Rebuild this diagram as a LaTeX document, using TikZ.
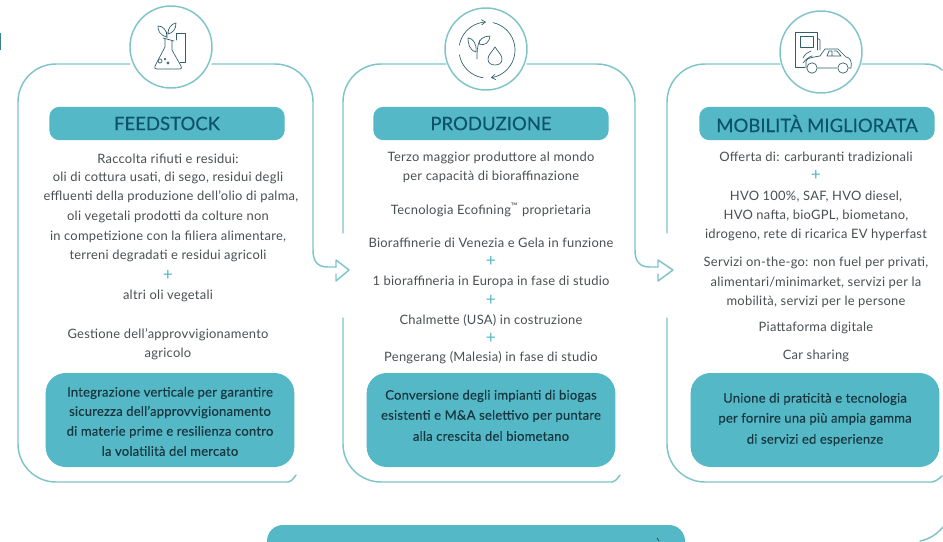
\documentclass[tikz,border=0pt]{standalone}
\usepackage{fontspec}
\setmainfont{Lato}
\usetikzlibrary{arrows.meta}
\definecolor{cardline}{HTML}{7FC4CA}
\definecolor{boxfill}{HTML}{55B8C6}
\definecolor{headtext}{HTML}{0C5268}
\definecolor{bodytext}{HTML}{4A4F52}
\definecolor{boxtext}{HTML}{17363F}
\definecolor{plusc}{HTML}{55B8C6}
\definecolor{iconc}{HTML}{2F5F6B}
\tikzset{
 x=0.75pt,y=-0.75pt,
 cardedge/.style={draw=cardline,line width=1.1pt,line cap=round,line join=round,rounded corners=28.5pt},
 arrowedge/.style={draw=cardline,line width=1.1pt,line cap=round,line join=round},
 badge/.style={circle,draw=cardline,line width=1.1pt,fill=white,minimum size=61.5pt,inner sep=0pt},
 pill/.style={fill=boxfill,rounded corners=7.5pt,minimum width=176.5pt,minimum height=25pt,inner sep=0pt,text=headtext,font=\fontsize{13.9pt}{15pt}\selectfont\addfontfeatures{FakeBold=0.15}},
 darkbox/.style={fill=boxfill,rounded corners=15pt,minimum width=186.5pt,minimum height=70.5pt,inner sep=0pt},
 body/.style={text=bodytext,font=\fontsize{9.7pt}{11pt}\selectfont\addfontfeatures{LetterSpace=2},inner sep=0pt,anchor=center},
 plussign/.style={text=plusc,font=\fontsize{13pt}{13pt}\selectfont,inner sep=0pt,anchor=center},
 boxline/.style={text=boxtext,font=\fontsize{9.8pt}{11pt}\selectfont\addfontfeatures{LetterSpace=1.5,FakeBold=0.2},inner sep=0pt,anchor=center},
 icon/.style={draw=iconc,line width=0.5pt,line join=round,line cap=round},
}
\begin{document}
\begin{tikzpicture}
\useasboundingbox (0,0) rectangle (943,542);
\fill[white] (0,0) rectangle (943,542);
\fill[boxfill!70!black] (0,33) rectangle (1.5,50);

% card outlines
\coordinate (a1) at (336,267);
\coordinate (a2) at (658,267);
\draw[cardedge] (130,64) -- (18,64) -- (18,482) -- (288,482);
\draw[arrowedge] (288,482) .. controls (292,481) and (294,478) .. (296,475);
\draw[arrowedge] (212,64) -- (275,64) .. controls (296,64) and (313,81) .. (313,102) -- (313,250) .. controls (313,262) and (318,267) .. (328,267) -- (a1);
\draw[arrowedge] (336,260) -- (a1) (336,260) -- (349,270) -- (336,281) -- (336,274);
\draw[cardedge] (343,233) -- (343,64) -- (446,64);
\draw[cardedge] (343,318) -- (343,482) -- (612,482);
\draw[arrowedge] (612,482) .. controls (616,481) and (618,478) .. (620,475);
\draw[arrowedge] (527,64) -- (597,64) .. controls (618,64) and (635,81) .. (635,102) -- (635,250) .. controls (635,262) and (640,267) .. (650,267) -- (a2);
\draw[arrowedge] (658,260) -- (a2) (658,260) -- (673,270) -- (658,281) -- (658,274);
\draw[cardedge] (667,233) -- (667,64) -- (780,64);
\draw[arrowedge] (862,64) -- (925,64) .. controls (933,64) and (938,66) .. (942,70);
\draw[cardedge] (667,318) -- (667,482) -- (932,482);
\draw[arrowedge] (932,482) .. controls (936,481) and (939,479) .. (942,476);
\draw[arrowedge] (943,527) .. controls (937,534) and (930,539) .. (920,541);

% badges
\node[badge] (b1) at (171,47) {};
\node[badge] (b2) at (486,49) {};
\node[badge] (b3) at (821,52) {};

% icon 1
\draw[icon] (163,38) -- (174,41) (165,39) -- (165,47) -- (155,66) .. controls (154,68) and (155,69) .. (157,69) -- (179,69) .. controls (182,69) and (182,67) .. (181,66) -- (172,50) -- (172,41);
\draw[icon] (176,40) -- (176,33) -- (185,33) -- (185,62) -- (180,62);
\draw[icon] (167,38) -- (167,32) (167,37) .. controls (159,35) and (158,30) .. (158,26) .. controls (163,26) and (167,30) .. (167,37) -- cycle;
\draw[icon] (168,34) .. controls (168,28) and (171,24) .. (176,23) .. controls (176,29) and (173,33) .. (168,34) -- cycle;
\draw[icon] (160,61) circle (2) (165,59) circle (1) (168,63) circle (1.2);
% icon 2
\draw[icon,-{Straight Barb[length=3pt,width=4pt]}] plot[smooth,domain=170:92,samples=16] ({487+28*cos(\x)},{50-28*sin(\x)});
\draw[icon,-{Straight Barb[length=3pt,width=4pt]}] plot[smooth,domain=78:-82,samples=28] ({487+28*cos(\x)},{50-28*sin(\x)});
\draw[icon] plot[smooth,domain=190:262,samples=14] ({487+28*cos(\x)},{50-28*sin(\x)});
\draw[icon] (477,59) .. controls (477,52) and (477,46) .. (480,40);
\draw[icon] (476,52) .. controls (469,50) and (468,43) .. (468,38) .. controls (473,38) and (477,44) .. (476,52) -- cycle;
\draw[icon] (479,44) .. controls (479,40) and (483,36) .. (490,36) .. controls (489,43) and (485,46) .. (479,44) -- cycle;
\draw[icon] (495,47) .. controls (492,52) and (488,55) .. (488,59) .. controls (488,63) and (491,65) .. (495,65) .. controls (499,65) and (502,63) .. (502,59) .. controls (502,55) and (498,52) .. (495,47) -- cycle;
% icon 3
\draw[icon] (805,67) -- (795,67) -- (795,32) -- (817,32) -- (817,50);
\draw[icon] (800,36) -- (813,36) -- (813,47) -- (800,47) -- cycle;
\draw[icon] (817,38) -- (820,40) -- (820,50);
\draw[icon] (803,58) .. controls (805,54) and (808,52) .. (811,51) (803,63) .. controls (806,59) and (809,57) .. (812,56);
\draw[icon] (806,68) -- (806,62) .. controls (806,59) and (809,58) .. (814,57) -- (820,56) -- (825,49) -- (838,49) -- (846,57) .. controls (850,58) and (852,60) .. (851,68) -- (849,68);
\draw[icon] (818,68) -- (837,68) (827,56) -- (829,51) -- (832,51) -- (832,56) (834,51) -- (837,51) -- (841,56) -- (827,56);
\draw[icon] (812,68) circle (5.2) (843,68) circle (5.2);

% headers
\node[pill] (h1) at (167,123.5) {FEEDSTOCK};
\node[pill] (h2) at (491,123.5) {PRODUZIONE};
\node[pill] (h3) at (817,123.5) {MOBILITÀ MIGLIORATA};

% card 1 text
\node[body] (t1a) at (168,159) {Raccolta rifiuti e residui:};
\node[body] (t1b) at (168,178) {oli di cottura usati, di sego, residui degli};
\node[body] (t1c) at (171,197) {effluenti della produzione dell'olio di palma,};
\node[body] (t1d) at (168,217) {oli vegetali prodotti da colture non};
\node[body] (t1e) at (168,237) {in competizione con la filiera alimentare,};
\node[body] (t1f) at (168,256) {terreni degradati e residui agricoli};
\node[plussign] (t1g) at (168,275) {+};
\node[body] (t1h) at (168,296) {altri oli vegetali};
\node[body] (t1i) at (168,335) {Gestione dell'approvvigionamento};
\node[body] (t1j) at (168,354) {agricolo};
% card 2 text
\node[body] (t2a) at (491,158) {Terzo maggior produttore al mondo};
\node[body] (t2b) at (491,177) {per capacità di bioraffinazione};
\node[body] (t2c) at (491,210) {Tecnologia Ecofining\textsuperscript{™} proprietaria};
\node[body] (t2d) at (491,243) {Bioraffinerie di Venezia e Gela in funzione};
\node[plussign] (t2e) at (491,261) {+};
\node[body] (t2f) at (491,282) {1 bioraffineria in Europa in fase di studio};
\node[plussign] (t2g) at (491,300) {+};
\node[body] (t2h) at (491,320) {Chalmette (USA) in costruzione};
\node[plussign] (t2i) at (491,338) {+};
\node[body] (t2j) at (491,358) {Pengerang (Malesia) in fase di studio};
% card 3 text
\node[body] (t3a) at (816,157) {Offerta di: carburanti tradizionali};
\node[plussign] (t3b) at (816,175) {+};
\node[body] (t3c) at (816,197) {HVO 100\%, SAF, HVO diesel,};
\node[body] (t3d) at (816,216) {HVO nafta, bioGPL, biometano,};
\node[body] (t3e) at (816,235) {idrogeno, rete di ricarica EV hyperfast};
\node[body] (t3f) at (816,263) {Servizi on-the-go: non fuel per privati,};
\node[body] (t3g) at (816,283) {alimentari/minimarket, servizi per la};
\node[body] (t3h) at (816,302) {mobilità, servizi per le persone};
\node[body] (t3i) at (816,328) {Piattaforma digitale};
\node[body] (t3j) at (816,356) {Car sharing};

% dark boxes
\node[darkbox] (d1) at (170,420) {};
\node[darkbox] (d2) at (491,420) {};
\node[darkbox] (d3) at (815,420) {};
\node[boxline] (d1a) at (170,393) {Integrazione verticale per garantire};
\node[boxline] (d1b) at (170,412) {sicurezza dell'approvvigionamento};
\node[boxline] (d1c) at (170,432) {di materie prime e resilienza contro};
\node[boxline] (d1d) at (170,451) {la volatilità del mercato};
\node[boxline] (d2a) at (491,396) {Conversione degli impianti di biogas};
\node[boxline] (d2b) at (491,416) {esistenti e M\&A selettivo per puntare};
\node[boxline] (d2c) at (491,436) {alla crescita del biometano};
\node[boxline] (d3a) at (815,399) {Unione di praticità e tecnologia};
\node[boxline] (d3b) at (815,419) {per fornire una più ampia gamma};
\node[boxline] (d3c) at (815,440) {di servizi ed esperienze};

% bottom box
\begin{scope}
\clip (0,0) rectangle (943,542);
\node[fill=boxfill,rounded corners=12pt,minimum width=313.5pt,minimum height=30pt,inner sep=0pt] (bot) at (476,545) {};
\draw[boxtext,line width=0.5pt] (657,538) -- (659,541);
\end{scope}
\end{tikzpicture}
\end{document}
